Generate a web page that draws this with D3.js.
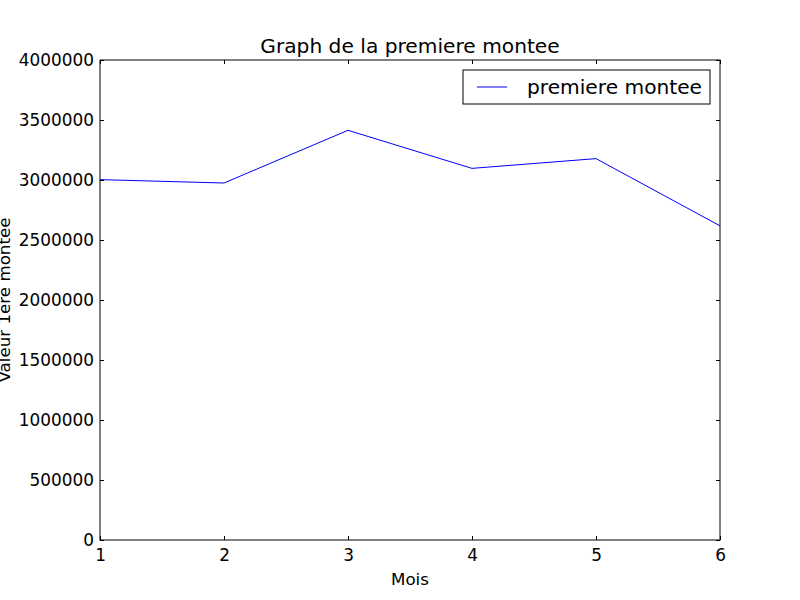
<!DOCTYPE html>
<html>
<head>
<meta charset="utf-8">
<script src="https://cdn.jsdelivr.net/npm/d3@7"></script>
<style>
  body { margin: 0; background: #fff; }
  text { font-family: "DejaVu Sans", sans-serif; }
</style>
</head>
<body>
<svg id="chart" width="800" height="600"></svg>
<script>
var mois = [1, 2, 3, 4, 5, 6];
var valeurs = [3003000, 2975000, 3414000, 3097000, 3178000, 2618000];
var yTicks = [0, 500000, 1000000, 1500000, 2000000, 2500000, 3000000, 3500000, 4000000];

var margin = { top: 60, right: 80, bottom: 60, left: 100 },
  width = 800 - margin.left - margin.right,
  height = 600 - margin.top - margin.bottom;

var svg = d3.select("#chart");
svg.append("rect").attr("width", 800).attr("height", 600).attr("fill", "#fff");

var g = svg.append("g")
  .attr("transform", `translate(${margin.left}, ${margin.top})`);

const x_scale = d3.scaleLinear().domain([1, 6]).range([0, width]);
const y_scale = d3.scaleLinear().domain([0, 4000000]).range([height, 0]);

// line
var line = d3.line()
  .x(function(d, i) { return x_scale(mois[i]); })
  .y(function(d) { return y_scale(d); });

g.append("path")
  .datum(valeurs)
  .attr("d", line)
  .attr("fill", "none")
  .attr("stroke", "#0000ff")
  .attr("stroke-width", 1);

// axes (ticks inside, mirrored on top/right like matplotlib classic)
function styleAxis(sel) {
  sel.attr("font-size", null).attr("font-family", null);
  sel.select(".domain").remove();
  sel.selectAll(".tick line").attr("stroke", "#000");
  sel.selectAll(".tick text").attr("fill", "#000").style("font-size", "16.9px");
}

g.append("g")
  .attr("transform", `translate(0, ${height})`)
  .call(d3.axisBottom(x_scale).tickValues(mois).tickFormat(d3.format("d")).tickSizeInner(-4).tickPadding(9))
  .call(styleAxis);

g.append("g")
  .call(d3.axisTop(x_scale).tickValues(mois).tickSizeInner(-4).tickFormat(""))
  .call(styleAxis);

g.append("g")
  .call(d3.axisLeft(y_scale).tickValues(yTicks).tickFormat(d3.format("d")).tickSizeInner(-4).tickPadding(6))
  .call(styleAxis);

g.append("g")
  .attr("transform", `translate(${width}, 0)`)
  .call(d3.axisRight(y_scale).tickValues(yTicks).tickSizeInner(-4).tickFormat(""))
  .call(styleAxis);

// frame
g.append("rect")
  .attr("width", width).attr("height", height)
  .attr("fill", "none").attr("stroke", "#000").attr("stroke-width", 1);

// title and labels
g.append("text")
  .attr("x", width / 2).attr("y", -7)
  .attr("text-anchor", "middle")
  .style("font-size", "20.2px")
  .text("Graph de la premiere montee");

g.append("text")
  .attr("x", width / 2).attr("y", height + 45)
  .attr("text-anchor", "middle")
  .style("font-size", "16.7px")
  .text("Mois");

svg.append("text")
  .attr("transform", `translate(10, ${margin.top + height / 2}) rotate(-90)`)
  .attr("text-anchor", "middle")
  .style("font-size", "16.7px")
  .text("Valeur 1ere montee");

// legend
var legend = g.append("g").attr("transform", `translate(${width - 257}, 10)`);
legend.append("rect")
  .attr("width", 247).attr("height", 34)
  .attr("fill", "#fff").attr("stroke", "#000").attr("stroke-width", 1);
legend.append("line")
  .attr("x1", 14).attr("x2", 44).attr("y1", 17).attr("y2", 17)
  .attr("stroke", "#0000ff").attr("stroke-width", 1);
legend.append("text")
  .attr("x", 64).attr("y", 24)
  .style("font-size", "20.2px")
  .text("premiere montee");
</script>
</body>
</html>
